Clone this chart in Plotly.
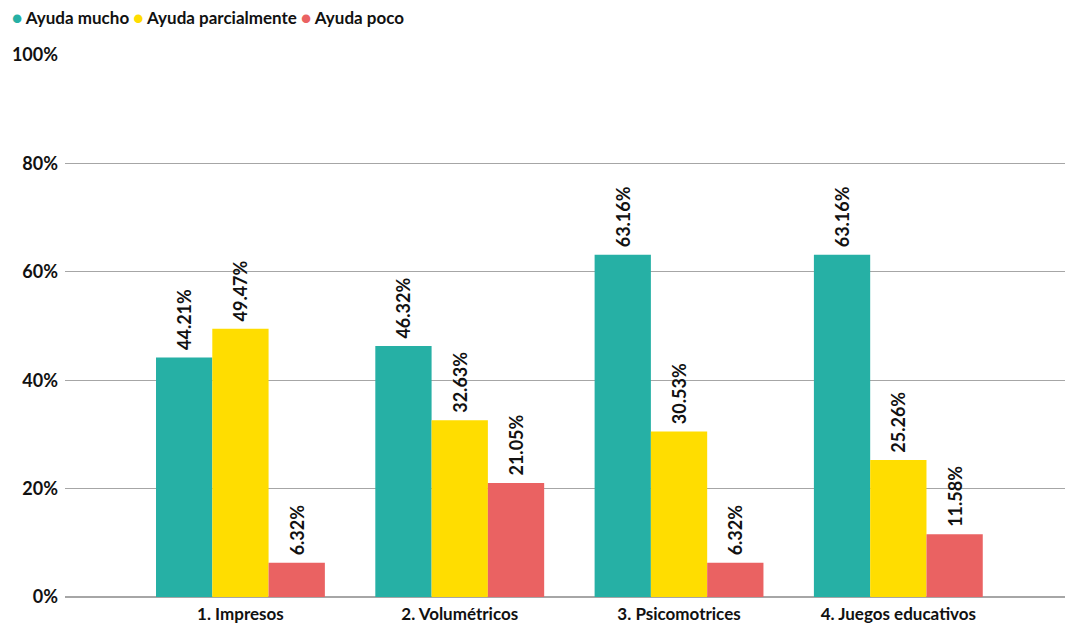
import plotly.graph_objects as go

categories = ["1. Impresos", "2. Volumétricos", "3. Psicomotrices", "4. Juegos educativos"]
series_names = ["Ayuda mucho", "Ayuda parcialmente", "Ayuda poco"]
ayuda_mucho = [44.21, 46.32, 63.16, 63.16]
ayuda_parcial = [49.47, 32.63, 30.53, 25.26]
ayuda_poco = [6.32, 21.05, 6.32, 11.58]
colors = ["#26b0a5", "#ffdd00", "#ea6262"]
y_ticks = [0, 20, 40, 60, 80, 100]

FONT = "Lato"
W, H = 1067, 625
ML, MR, MT, MB = 65, 2, 55, 28

fig = go.Figure()
for name, vals, col in zip(series_names, [ayuda_mucho, ayuda_parcial, ayuda_poco], colors):
    fig.add_trace(go.Bar(
        x=categories, y=vals, name=name, marker=dict(color=col, line=dict(width=0)),
        text=[f"\u00a0{v:.2f}%" for v in vals], textposition="outside", textangle=-90,
        textfont=dict(family=FONT, size=18, color="#111", weight="bold"),
        constraintext="none", cliponaxis=False, showlegend=False,
    ))

legend_text = " ".join(
    f"<span style='color:{c}'>●</span> {n}" for n, c in zip(series_names, colors)
)
fig.add_annotation(
    text=legend_text, xref="paper", yref="paper",
    x=(10 - ML) / (W - ML - MR), y=1 + (MT - 17) / (H - MT - MB),
    xanchor="left", yanchor="middle", showarrow=False,
    font=dict(family=FONT, size=17, color="#111", weight="bold"),
)

fig.update_layout(
    width=W, height=H,
    margin=dict(l=ML, r=MR, t=MT, b=MB),
    paper_bgcolor="white", plot_bgcolor="white",
    barmode="group", bargap=0.23, bargroupgap=0,
    showlegend=False,
    font=dict(family=FONT, size=14, color="#111"),
    xaxis=dict(type="category", range=[-0.8, 3.76], showgrid=False, ticks="",
               tickfont=dict(family=FONT, size=17, weight="bold", color="#111"),
               showline=False, zeroline=False, automargin=False, ticklabelstandoff=5),
    yaxis=dict(range=[0, 100], tickvals=y_ticks, ticktext=[f"{t}%" for t in y_ticks],
               showgrid=True, gridcolor="#a6a6a6", gridwidth=1,
               zeroline=True, zerolinecolor="#a6a6a6", zerolinewidth=2,
               tickfont=dict(family=FONT, size=18, weight="bold", color="#111"),
               ticks="", ticklabelstandoff=6, automargin=False),
)
fig.write_html("out.html", config={"displayModeBar": False},
               post_script="document.body.style.margin='0';document.body.style.overflow='hidden';")
